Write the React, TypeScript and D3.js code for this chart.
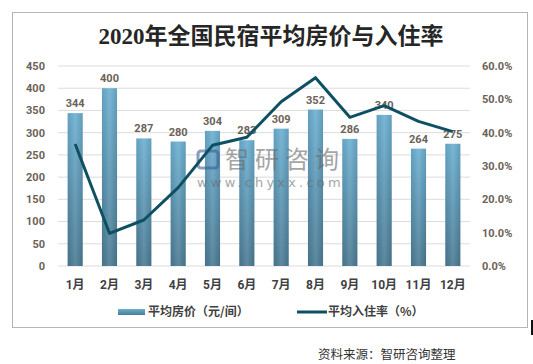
import React from 'react'
import * as d3 from 'd3'

const months = ['1月', '2月', '3月', '4月', '5月', '6月', '7月', '8月', '9月', '10月', '11月', '12月']
const prices = [344, 400, 287, 280, 304, 283, 309, 352, 286, 340, 264, 275]
const rates = [36.6, 9.8, 13.8, 23.5, 36.2, 38.6, 49.3, 56.5, 44.6, 48.1, 43.4, 40.3]
const leftTicks = [0, 50, 100, 150, 200, 250, 300, 350, 400, 450]
const rightTicks = [0, 10, 20, 30, 40, 50, 60]

const W = 533
const H = 364
const plot = { left: 58, right: 470, top: 66, bottom: 266 }

const App = () => {
  const x = d3.scaleBand().domain(months).range([plot.left, plot.right]).paddingInner(0.56).paddingOuter(0.28)
  const yL = d3.scaleLinear().domain([0, 450]).range([plot.bottom, plot.top])
  const yR = d3.scaleLinear().domain([0, 60]).range([plot.bottom, plot.top])
  const cx = (m: string) => (x(m) as number) + x.bandwidth() / 2

  const line = d3.line<number>()
    .x((d, i) => cx(months[i]))
    .y(d => yR(d))

  const tickStyle = { fontFamily: 'Roboto, "Noto Sans", sans-serif', fontSize: 11, fontWeight: 700, fill: '#6b6257' }

  return (
    <svg width={W} height={H} style={{ position: 'absolute', left: 0, top: 0, background: '#fff' }}>
      <defs>
        <linearGradient id="barGrad" x1="0" y1="0" x2="0" y2="1">
          <stop offset="0" stopColor="#6cb0d2" />
          <stop offset="1" stopColor="#4b7b93" />
        </linearGradient>
        <linearGradient id="barShade" x1="0" y1="0" x2="1" y2="0">
          <stop offset="0" stopColor="#000" stopOpacity="0.08" />
          <stop offset="0.5" stopColor="#fff" stopOpacity="0.1" />
          <stop offset="1" stopColor="#000" stopOpacity="0.1" />
        </linearGradient>
      </defs>

      <rect x={12.5} y={12.5} width={515} height={315} fill="#fff" stroke="#b5b5b5" strokeWidth={1} />

      <text x={271} y={44} textAnchor="middle"
        style={{ fontFamily: '"Liberation Serif", "Noto Sans CJK SC", serif', fontSize: 23, fontWeight: 700, fill: '#262626' }}>
        2020年全国民宿平均房价与入住率
      </text>

      {leftTicks.map(t => (
        <line key={'g' + t} x1={plot.left} x2={plot.right} y1={yL(t)} y2={yL(t)} stroke="#dcdcdc" strokeWidth={1} />
      ))}
      {leftTicks.map(t => (
        <text key={'l' + t} x={45} y={yL(t)} dy="0.35em" textAnchor="end" style={tickStyle}>{t}</text>
      ))}
      {rightTicks.map(t => (
        <text key={'r' + t} x={482} y={yR(t)} dy="0.35em" textAnchor="start" style={tickStyle}>{t.toFixed(1)}%</text>
      ))}

      {prices.map((p, i) => (
        <g key={'b' + i}>
          <rect x={x(months[i])} y={yL(p)} width={x.bandwidth()} height={plot.bottom - yL(p)} fill="url(#barGrad)" />
          <rect x={x(months[i])} y={yL(p)} width={x.bandwidth()} height={plot.bottom - yL(p)} fill="url(#barShade)" />
        </g>
      ))}
      {prices.map((p, i) => (
        <text key={'v' + i} x={cx(months[i])} y={yL(p) - 6} textAnchor="middle" style={tickStyle}>{p}</text>
      ))}

      {/* watermark */}
      <g opacity={0.6}>
        <rect x={198} y={151} width={20} height={17} rx={3} fill="none" stroke="#3f5f96" strokeWidth={3} />
        <text x={225} y={168} style={{ fontFamily: '"Noto Sans CJK SC", sans-serif', fontSize: 24, letterSpacing: 6, fill: '#6a6a6a' }}>智研咨询</text>
        <text x={197} y={187} style={{ fontFamily: '"DejaVu Sans", sans-serif', fontSize: 13, letterSpacing: 3.2, fill: '#6a6a6a' }}>www.chyxx.com</text>
      </g>

      <path d={line(rates) || ''} fill="none" stroke="#0e5062" strokeWidth={3} strokeLinejoin="round" />

      {months.map(m => (
        <text key={'m' + m} x={cx(m)} y={285} dy="0.35em" textAnchor="middle"
          style={{ fontFamily: 'Roboto, "Noto Sans CJK SC", sans-serif', fontSize: 12, fontWeight: 700, fill: '#404040' }}>{m}</text>
      ))}

      {/* legend */}
      <rect x={118} y={309} width={27} height={6} fill="url(#barGrad)" />
      <text x={148} y={312} dy="0.35em" style={{ fontFamily: '"Noto Sans CJK SC", sans-serif', fontSize: 12, fontWeight: 700, fill: '#404040' }}>平均房价（元/间）</text>
      <line x1={297} x2={327} y1={312} y2={312} stroke="#0e5062" strokeWidth={3} />
      <text x={328} y={312} dy="0.35em" style={{ fontFamily: '"Noto Sans CJK SC", sans-serif', fontSize: 12, fontWeight: 700, fill: '#404040' }}>平均入住率（%）</text>

      <text x={318} y={355} dy="0.35em" style={{ fontFamily: '"Noto Sans CJK SC", sans-serif', fontSize: 12.5, fill: '#333' }}>资料来源：智研咨询整理</text>

      <rect x={531} y={320} width={2} height={15} fill="#111" />
    </svg>
  )
}

export default App
